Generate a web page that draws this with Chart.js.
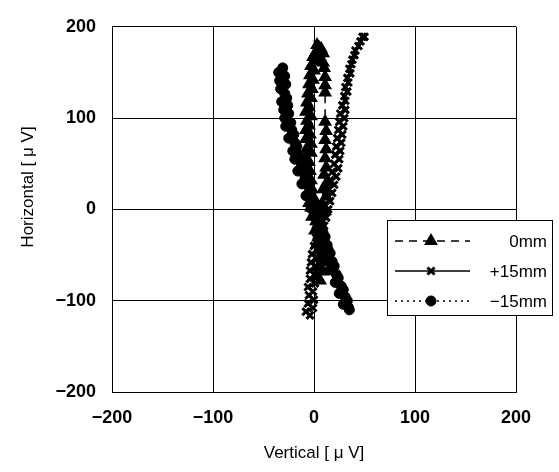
<!DOCTYPE html>
<html lang="en">
<head>
    <meta charset="UTF-8">
    <title>Vertical vs Horizontal</title>
    <script src="https://cdn.jsdelivr.net/npm/chart.js"></script>
    <style>
        body { margin: 0; background: #fff; }
    </style>
</head>
<body>
<canvas id="chart" width="559" height="472"></canvas>
<script>
    // tick values for both axes
    const axisTicks = [-200, -100, 0, 100, 200];
    const xTitle = 'Vertical [ \u03bc V]';
    const yTitle = 'Horizontal [ \u03bc V]';

    // 0mm (triangles, dashed)
    const mm0X = [6, 2, 9, 4, 10, 5, 11, 6, 3, 9,
                  5, 1, 7, 2, -2, 3, -3, -5, 0, -6,
                  -2, -7, -3, -8, -4, -9, -5, -8, -3, -7,
                  -3, -8, -4, -8, -5, -7, -3, -8, -5, -7,
                  -3, -6, -2, -5, -1, -4, 0, -3, 1, -1,
                  2, 5,
                  3, 7, 9, 6, 9, 10,
                  11, 11, 11,
                  11, 12, 11, 12, 11, 12, 10, 13, 9, 12, 8, 11];
    const mm0Y = [-78, -73, -68, -63, -58, -53, -48, -43, -38, -33,
                  -28, -23, -18, -13, -8, -3, 2, 7, 12, 17,
                  22, 27, 32, 37, 42, 47, 52, 57, 62, 67,
                  72, 77, 82, 87, 92, 97, 102, 107, 112, 117,
                  122, 127, 132, 137, 142, 147, 152, 157, 162, 167,
                  172, 177,
                  180, 176, 171, 166, 161, 155,
                  145, 136, 128,
                  96, 86, 76, 66, 56, 46, 38, 30, 22, 14, 6, -2];

    // +15mm (crosses, solid)
    const p15X = [-4, -8, -1, -6, 0, -5, -1, -6, 1, -4,
                  1, -4, 2, -3, 3, -2, 4, 0, 6, 2,
                  8, 4, 10, 6, 12, 8, 14, 10, 16, 12,
                  18, 14, 20, 16, 22, 18, 24, 20, 25, 21,
                  26, 22, 27, 23, 28, 24, 29, 25, 30, 26,
                  31, 28, 31, 30, 33, 31, 34, 33, 36, 35,
                  37, 38, 40, 41, 44, 46, 48, 50];
    const p15Y = [-116, -112, -108, -103, -99, -94, -90, -85, -81, -76,
                  -72, -67, -63, -58, -54, -49, -45, -40, -36, -31,
                  -27, -22, -18, -13, -9, -4, 0, 5, 9, 14,
                  18, 23, 27, 32, 36, 41, 45, 50, 55, 60,
                  64, 69, 73, 78, 82, 87, 91, 96, 100, 105,
                  109, 114, 119, 124, 129, 134, 139, 144, 149, 154,
                  159, 164, 169, 174, 179, 184, 189, 189];

    // -15mm (circles, dotted)
    const m15X = [-31, -35, -29, -34, -28, -33, -29, -27, -32, -26,
                  -30, -25, -29, -23, -28, -22, -20, -25, -19, -17,
                  -21, -15, -19, -13, -11, -16, -9, -7, -12, -5,
                  -3, -8, -1, 1, -3, 4, 0, 6, 7, 3,
                  9, 11, 7, 13, 14, 16, 12, 18, 20, 16,
                  22, 24, 21, 27, 29, 25, 31, 33, 29, 34, 35];
    const m15Y = [155, 150, 146, 141, 137, 132, 127, 122, 118, 114,
                  109, 105, 100, 95, 91, 87, 82, 78, 73, 69,
                  64, 60, 55, 51, 46, 42, 37, 33, 28, 24,
                  19, 15, 10, 6, 1, -3, -8, -12, -17, -21,
                  -26, -30, -35, -39, -44, -48, -53, -57, -62, -66,
                  -71, -75, -80, -84, -88, -92, -96, -100, -104, -107, -110];

    const seriesNames = ['0mm', '+15mm', '\u221215mm'];

    const toPoints = (xs, ys) => xs.map((x, i) => ({ x: x, y: ys[i] }));
    const fmt = v => (v < 0 ? '\u2212' + Math.abs(v) : String(v));

    const styles = [
        { pointStyle: 'triangle', pointRadius: 6, pointBorderWidth: 2, borderDash: [8, 6] },
        { pointStyle: 'crossRot', pointRadius: 5, pointBorderWidth: 3, borderDash: [] },
        { pointStyle: 'circle', pointRadius: 5, pointBorderWidth: 1, borderDash: [2, 4] }
    ];

    const datasets = [
        toPoints(mm0X, mm0Y),
        toPoints(p15X, p15Y),
        toPoints(m15X, m15Y)
    ].map((pts, i) => ({
        label: seriesNames[i],
        data: pts,
        showLine: true,
        borderColor: '#000',
        backgroundColor: '#000',
        borderWidth: i === 1 ? 2.5 : 1.5,
        borderDash: styles[i].borderDash,
        pointStyle: styles[i].pointStyle,
        pointRadius: styles[i].pointRadius,
        pointBorderWidth: styles[i].pointBorderWidth,
        pointBorderColor: '#000',
        pointBackgroundColor: '#000'
    }));

    const fontFamily = '"Liberation Sans", Arial, sans-serif';

    // legend box over the plot + y title placed like the original
    const boxLegend = {
        id: 'boxLegend',
        afterDraw(chart) {
            const ctx = chart.ctx;
            const x0 = 387, y0 = 220, w = 165, h = 95;
            ctx.save();
            ctx.fillStyle = '#fff';
            ctx.fillRect(x0, y0, w, h);
            ctx.strokeStyle = '#000';
            ctx.lineWidth = 1;
            ctx.strokeRect(x0 + 0.5, y0 + 0.5, w, h);
            chart.data.datasets.forEach((ds, i) => {
                const y = y0 + 21 + i * 30;
                ctx.strokeStyle = '#000';
                ctx.lineWidth = 1.5;
                ctx.setLineDash(ds.borderDash);
                ctx.beginPath();
                ctx.moveTo(395, y);
                ctx.lineTo(470, y);
                ctx.stroke();
                ctx.setLineDash([]);
                ctx.fillStyle = '#000';
                ctx.lineWidth = ds.pointBorderWidth;
                Chart.helpers.drawPoint(ctx, {
                    pointStyle: ds.pointStyle,
                    radius: ds.pointRadius,
                    rotation: 0,
                    borderWidth: ds.pointBorderWidth
                }, 431, y);
                ctx.fillStyle = '#000';
                ctx.font = '17px ' + fontFamily;
                ctx.textAlign = 'right';
                ctx.textBaseline = 'middle';
                ctx.fillText(ds.label, 547, y + 1);
            });

            ctx.translate(28, 187);
            ctx.rotate(-Math.PI / 2);
            ctx.font = '17px ' + fontFamily;
            ctx.textAlign = 'center';
            ctx.textBaseline = 'middle';
            ctx.fillText(yTitle, 0, 0);
            ctx.restore();
        }
    };

    const tickFont = { family: fontFamily, size: 18, weight: 'bold' };
    const titleFont = { family: fontFamily, size: 17 };

    new Chart(document.getElementById('chart').getContext('2d'), {
        type: 'scatter',
        data: { datasets: datasets },
        plugins: [boxLegend],
        options: {
            responsive: false,
            animation: false,
            devicePixelRatio: 1,
            layout: { padding: { top: 13, right: 43, left: 0, bottom: 0 } },
            plugins: {
                legend: { display: false },
                tooltip: { enabled: false }
            },
            scales: {
                x: {
                    type: 'linear',
                    min: axisTicks[0],
                    max: axisTicks[axisTicks.length - 1],
                    afterBuildTicks: s => { s.ticks = axisTicks.map(v => ({ value: v })); },
                    afterFit: s => { s.height = 80; },
                    grid: { color: '#000', lineWidth: 1, drawTicks: false },
                    border: { color: '#000', width: 1 },
                    ticks: { color: '#000', font: tickFont, padding: 15, maxRotation: 0, callback: v => fmt(v) },
                    title: { display: true, text: xTitle, color: '#000', font: titleFont, padding: { top: 0, bottom: 8 } }
                },
                y: {
                    type: 'linear',
                    min: axisTicks[0],
                    max: axisTicks[axisTicks.length - 1],
                    afterBuildTicks: s => { s.ticks = axisTicks.map(v => ({ value: v })); },
                    afterFit: s => { s.width = 112; },
                    grid: { color: '#000', lineWidth: 1, drawTicks: false },
                    border: { color: '#000', width: 1 },
                    ticks: { color: '#000', font: tickFont, padding: 16, callback: v => fmt(v) }
                }
            }
        }
    });
</script>
</body>
</html>
